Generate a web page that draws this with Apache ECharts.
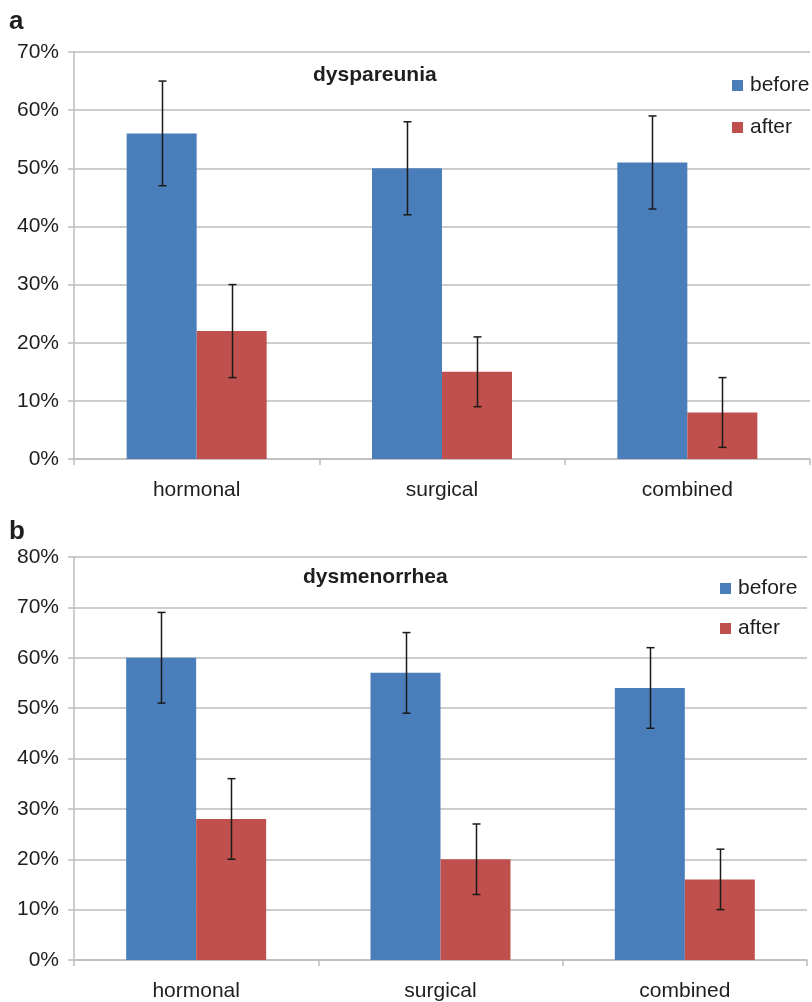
<!DOCTYPE html>
<html>
<head>
<meta charset="utf-8">
<script src="https://cdn.jsdelivr.net/npm/echarts@6/dist/echarts.min.js"></script>
<style>
  html, body { margin: 0; padding: 0; background: #fff; }
  #chart { width: 812px; height: 1002px; }
</style>
</head>
<body>
<div id="chart"></div>
<script>
// Treatment groups on the x axis of both panels
const categories = ['hormonal', 'surgical', 'combined'];

// Panel a: dyspareunia (% of patients)
const dyspareuniaBefore = [56, 50, 51];
const dyspareuniaAfter = [22, 15, 8];
// error bar ranges [low, high]
const dyspareuniaBeforeErr = [[47, 65], [42, 58], [43, 59]];
const dyspareuniaAfterErr = [[14, 30], [9, 21], [2, 14]];

// Panel b: dysmenorrhea (% of patients)
const dysmenorrheaBefore = [60, 57, 54];
const dysmenorrheaAfter = [28, 20, 16];
const dysmenorrheaBeforeErr = [[51, 69], [49, 65], [46, 62]];
const dysmenorrheaAfterErr = [[20, 36], [13, 27], [10, 22]];

// Axis tick settings
const yMaxA = 70, yMaxB = 80, yStep = 10;

const BLUE = '#4A7EBB';
const RED = '#C0504D';
const BAR_W = 70;
const FONT = '"Liberation Sans", Arial, sans-serif';
const TEXT = '#1e1e1e';
const GRID_LINE = '#bdbdbd';

function errData(ranges) {
  return ranges.map((r, i) => [i, r[0], r[1]]);
}

// Whisker drawn at the centre of the left (-1) or right (+1) bar of a group
function errRenderer(side) {
  return function (params, api) {
    const i = api.value(0);
    const lo = api.coord([i, api.value(1)]);
    const hi = api.coord([i, api.value(2)]);
    const x = Math.round(lo[0] + side * BAR_W / 2) + 0.5;
    const cap = 4;
    const style = { stroke: '#1a1a1a', lineWidth: 1.5 };
    return {
      type: 'group',
      children: [
        { type: 'line', shape: { x1: x, y1: lo[1], x2: x, y2: hi[1] }, style },
        { type: 'line', shape: { x1: x - cap, y1: hi[1], x2: x + cap, y2: hi[1] }, style },
        { type: 'line', shape: { x1: x - cap, y1: lo[1], x2: x + cap, y2: lo[1] }, style }
      ]
    };
  };
}

function yAxis(gridIndex, max) {
  return {
    type: 'value', gridIndex, min: 0, max, interval: yStep,
    axisLine: { show: true, lineStyle: { color: GRID_LINE, width: 1.5 } },
    axisTick: { show: true, length: 6, lineStyle: { color: GRID_LINE, width: 1.5 } },
    splitLine: { show: true, lineStyle: { color: GRID_LINE, width: 1.5 } },
    axisLabel: { formatter: '{value}%', color: TEXT, fontSize: 21, fontFamily: FONT, margin: 15 }
  };
}

function xAxis(gridIndex) {
  return {
    type: 'category', gridIndex, data: categories,
    axisLine: { show: true, lineStyle: { color: GRID_LINE, width: 1.5 } },
    axisTick: { show: true, length: 6, lineStyle: { color: GRID_LINE, width: 1.5 } },
    axisLabel: { color: TEXT, fontSize: 21, fontFamily: FONT, margin: 21 }
  };
}

function bars(name, data, color, idx) {
  return {
    name, type: 'bar', data, xAxisIndex: idx, yAxisIndex: idx,
    barWidth: BAR_W, barGap: '0%', itemStyle: { color }, z: 2
  };
}

function errors(name, ranges, side, idx) {
  return {
    name, type: 'custom', data: errData(ranges), xAxisIndex: idx, yAxisIndex: idx,
    encode: { x: 0, y: [1, 2] }, renderItem: errRenderer(side), z: 5, silent: true
  };
}

function legend(left, top, gap) {
  return {
    data: ['before', 'after'], orient: 'vertical', left, top, itemGap: gap,
    itemWidth: 11, itemHeight: 11, icon: 'rect',
    textStyle: { color: TEXT, fontSize: 21, fontFamily: FONT, padding: [0, 0, 0, 2] }
  };
}

const chart = echarts.init(document.getElementById('chart'), null, { renderer: 'canvas' });

chart.setOption({
  animation: false,
  backgroundColor: '#fff',
  title: [
    { text: 'a', left: 4, top: 4, textStyle: { fontSize: 26, fontWeight: 'bold', color: TEXT, fontFamily: FONT } },
    { text: 'b', left: 4, top: 514, textStyle: { fontSize: 26, fontWeight: 'bold', color: TEXT, fontFamily: FONT } },
    { text: 'dyspareunia', left: 308, top: 60, textStyle: { fontSize: 21, fontWeight: 'bold', color: TEXT, fontFamily: FONT } },
    { text: 'dysmenorrhea', left: 298, top: 562, textStyle: { fontSize: 21, fontWeight: 'bold', color: TEXT, fontFamily: FONT } }
  ],
  legend: [legend(727, 70, 21), legend(715, 573, 19)],
  grid: [
    { left: 74, top: 52, width: 736, height: 407, containLabel: false },
    { left: 74, top: 557, width: 733, height: 405, containLabel: false }
  ],
  xAxis: [xAxis(0), xAxis(1)],
  yAxis: [yAxis(0, yMaxA), yAxis(1, yMaxB)],
  series: [
    bars('before', dyspareuniaBefore, BLUE, 0),
    bars('after', dyspareuniaAfter, RED, 0),
    errors('before range a', dyspareuniaBeforeErr, -1, 0),
    errors('after range a', dyspareuniaAfterErr, 1, 0),
    bars('before', dysmenorrheaBefore, BLUE, 1),
    bars('after', dysmenorrheaAfter, RED, 1),
    errors('before range b', dysmenorrheaBeforeErr, -1, 1),
    errors('after range b', dysmenorrheaAfterErr, 1, 1)
  ]
});
</script>
</body>
</html>
